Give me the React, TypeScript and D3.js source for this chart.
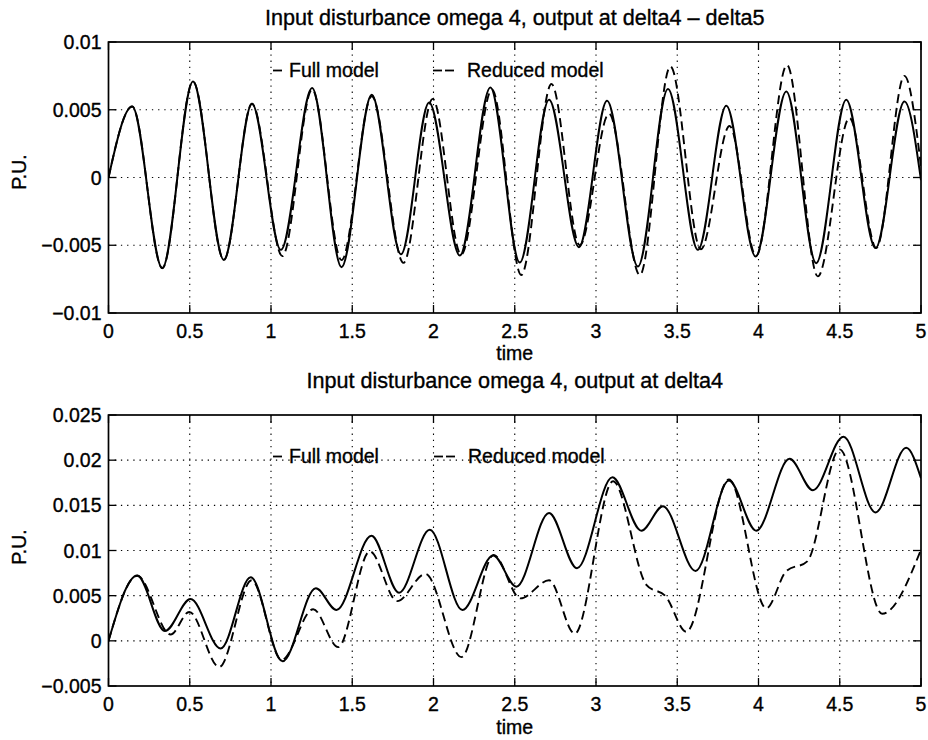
import React from 'react';
import * as d3 from 'd3';

// ---------- data ----------
const xTickValues = [0, 0.5, 1, 1.5, 2, 2.5, 3, 3.5, 4, 4.5, 5];
const xTickLabels = ['0', '0.5', '1', '1.5', '2', '2.5', '3', '3.5', '4', '4.5', '5'];

const topYTickValues = [-0.01, -0.005, 0, 0.005, 0.01];
const topYTickLabels = ['\u22120.01', '\u22120.005', '0', '0.005', '0.01'];
const botYTickValues = [-0.005, 0, 0.005, 0.01, 0.015, 0.02, 0.025];
const botYTickLabels = ['\u22120.005', '0', '0.005', '0.01', '0.015', '0.02', '0.025'];

const topTitle = 'Input disturbance omega 4, output at delta4 \u2013 delta5';
const botTitle = 'Input disturbance omega 4, output at delta4';
const legendFull = 'Full model';
const legendReduced = 'Reduced model';
const xLabel = 'time';
const yLabel = 'P.U.';

// top panel, full model (extrema)
const topFullT = [0, 0.146, 0.331, 0.52, 0.71, 0.883, 1.061, 1.253, 1.434, 1.62, 1.80, 1.973, 2.162, 2.35, 2.531, 2.711, 2.895, 3.068, 3.258, 3.443, 3.627, 3.802, 3.982, 4.171, 4.355, 4.54, 4.72, 4.898, 5.0];
const topFullY = [0, 0.00524, -0.00669, 0.00709, -0.00608, 0.00544, -0.00534, 0.0066, -0.00662, 0.0061, -0.00566, 0.00554, -0.00576, 0.00665, -0.00628, 0.00574, -0.00514, 0.00566, -0.00657, 0.00653, -0.00534, 0.0053, -0.00583, 0.00635, -0.00632, 0.00574, -0.00521, 0.00561, -0.0002];

// top panel, reduced model
const topRedT = [0, 0.146, 0.331, 0.52, 0.71, 0.883, 1.07, 1.253, 1.434, 1.62, 1.815, 1.995, 2.17, 2.36, 2.54, 2.726, 2.90, 3.08, 3.27, 3.458, 3.645, 3.822, 3.985, 4.175, 4.365, 4.56, 4.725, 4.898, 5.0];
const topRedY = [0, 0.00524, -0.00669, 0.00709, -0.00608, 0.00544, -0.0058, 0.0065, -0.0061, 0.0060, -0.0063, 0.0058, -0.0057, 0.0065, -0.0072, 0.0069, -0.0050, 0.0047, -0.0072, 0.0082, -0.0053, 0.0038, -0.0058, 0.0083, -0.0073, 0.0044, -0.0052, 0.0075, 0.0008];

// bottom panel, full model
const botFullT = [0, 0.177, 0.347, 0.505, 0.69, 0.875, 1.071, 1.276, 1.403, 1.618, 1.788, 1.977, 2.178, 2.367, 2.51, 2.711, 2.883, 3.101, 3.279, 3.412, 3.613, 3.818, 3.986, 4.191, 4.335, 4.523, 4.72, 4.909, 5.0];
const botFullY = [0, 0.00722, 0.00108, 0.00463, -0.00085, 0.00704, -0.00226, 0.00582, 0.00341, 0.01163, 0.00533, 0.0123, 0.00341, 0.00944, 0.006, 0.01416, 0.00804, 0.01811, 0.01219, 0.01489, 0.00774, 0.01774, 0.01219, 0.02015, 0.01667, 0.0226, 0.01422, 0.02137, 0.018];

// bottom panel, reduced model
const botRedT = [0, 0.177, 0.382, 0.497, 0.681, 0.881, 1.065, 1.26, 1.413, 1.608, 1.776, 1.95, 2.172, 2.37, 2.535, 2.711, 2.869, 3.105, 3.31, 3.43, 3.556, 3.818, 4.048, 4.17, 4.30, 4.499, 4.761, 5.0];
const botRedY = [0, 0.0072, 0.0007, 0.0032, -0.0029, 0.0067, -0.0021, 0.0035, -0.0007, 0.0099, 0.0044, 0.0074, -0.0018, 0.0095, 0.0047, 0.0067, 0.0008, 0.01767, 0.0062, 0.0049, 0.0010, 0.01786, 0.0036, 0.0077, 0.0088, 0.0212, 0.003, 0.0101];

// ---------- layout ----------
const W = 928;
const H = 740;
const X0 = 108.5;
const X1 = 921;
const FONT = '"Liberation Sans", Arial, Helvetica, sans-serif';
const TS = { stroke: '#000', strokeWidth: 0.35 } as const;

type PanelProps = {
  id: string;
  top: number;
  bottom: number;
  yDomain: [number, number];
  yTicks: number[];
  yLabels: string[];
  title: string;
  titleY: number;
  fullT: number[];
  fullY: number[];
  redT: number[];
  redY: number[];
  legendY: number;
  legendFullX: number;
  legendRedX: number;
  xLabelY: number;
  yLabelCY: number;
};

function Panel(p: PanelProps) {
  const x = d3.scaleLinear().domain([0, 5]).range([X0, X1]);
  const y = d3.scaleLinear().domain(p.yDomain).range([p.bottom, p.top]);
  const line = d3
    .line<[number, number]>()
    .x((d) => x(d[0]))
    .y((d) => y(d[1]))
    .curve(d3.curveMonotoneX);
  const full = p.fullT.map((t, i) => [t, p.fullY[i]] as [number, number]);
  const red = p.redT.map((t, i) => [t, p.redY[i]] as [number, number]);
  const tick = 8;
  const gridDash = '1.3,4.9';
  const fs = 19.5;
  const dashY = p.legendY - 6.5;
  return (
    <g>
      <defs>
        <clipPath id={`clip-${p.id}`}>
          <rect x={X0} y={p.top} width={X1 - X0} height={p.bottom - p.top} />
        </clipPath>
      </defs>
      {/* grid */}
      {xTickValues.slice(1, -1).map((v) => (
        <line key={`gx${v}`} x1={x(v)} x2={x(v)} y1={p.top} y2={p.bottom} stroke="#000" strokeWidth={1.1} strokeDasharray={gridDash} />
      ))}
      {p.yTicks.slice(1, -1).map((v) => (
        <line key={`gy${v}`} x1={X0} x2={X1} y1={y(v)} y2={y(v)} stroke="#000" strokeWidth={1.1} strokeDasharray={gridDash} />
      ))}
      {/* legend */}
      <line x1={p.legendFullX} x2={p.legendFullX + 9} y1={dashY} y2={dashY} stroke="#000" strokeWidth={1.8} />
      <text x={p.legendFullX + 16} y={p.legendY} fontFamily={FONT} fontSize={fs} fill="#000" {...TS}>{legendFull}</text>
      <line x1={p.legendRedX} x2={p.legendRedX + 9} y1={dashY} y2={dashY} stroke="#000" strokeWidth={1.8} />
      <line x1={p.legendRedX + 12} x2={p.legendRedX + 21} y1={dashY} y2={dashY} stroke="#000" strokeWidth={1.8} />
      <text x={p.legendRedX + 34} y={p.legendY} fontFamily={FONT} fontSize={fs} fill="#000" {...TS}>{legendReduced}</text>
      {/* curves */}
      <g clipPath={`url(#clip-${p.id})`}>
        <path d={line(red) || ''} fill="none" stroke="#000" strokeWidth={1.9} strokeDasharray="9,5" />
        <path d={line(full) || ''} fill="none" stroke="#000" strokeWidth={2} />
      </g>
      {/* ticks */}
      {xTickValues.map((v) => (
        <g key={`tx${v}`}>
          <line x1={x(v)} x2={x(v)} y1={p.bottom} y2={p.bottom - tick} stroke="#000" strokeWidth={1.3} />
          <line x1={x(v)} x2={x(v)} y1={p.top} y2={p.top + tick} stroke="#000" strokeWidth={1.3} />
        </g>
      ))}
      {p.yTicks.map((v) => (
        <g key={`ty${v}`}>
          <line x1={X0} x2={X0 + tick} y1={y(v)} y2={y(v)} stroke="#000" strokeWidth={1.3} />
          <line x1={X1} x2={X1 - tick} y1={y(v)} y2={y(v)} stroke="#000" strokeWidth={1.3} />
        </g>
      ))}
      {/* box */}
      <rect x={X0} y={p.top} width={X1 - X0} height={p.bottom - p.top} fill="none" stroke="#000" strokeWidth={1.7} />
      {/* tick labels */}
      {xTickValues.map((v, i) => (
        <text key={`lx${v}`} x={x(v)} y={p.bottom + 25} textAnchor="middle" fontFamily={FONT} fontSize={fs} fill="#000" {...TS}>{xTickLabels[i]}</text>
      ))}
      {p.yTicks.map((v, i) => (
        <text key={`ly${v}`} x={X0 - 7} y={y(v) + 7} textAnchor="end" fontFamily={FONT} fontSize={fs} fill="#000" {...TS}>{p.yLabels[i]}</text>
      ))}
      {/* labels */}
      <text x={(X0 + X1) / 2} y={p.titleY} textAnchor="middle" fontFamily={FONT} fontSize={21.6} fill="#000" {...TS}>{p.title}</text>
      <text x={(X0 + X1) / 2} y={p.xLabelY} textAnchor="middle" fontFamily={FONT} fontSize={fs} fill="#000" {...TS}>{xLabel}</text>
      <text transform={`translate(26,${p.yLabelCY}) rotate(-90)`} textAnchor="middle" fontFamily={FONT} fontSize={fs} fill="#000" {...TS}>{yLabel}</text>
    </g>
  );
}

export default function App() {
  return (
    <svg width={W} height={H} viewBox={`0 0 ${W} ${H}`} style={{ position: 'absolute', left: 0, top: 0, background: '#fff' }}>
      <rect x={0} y={0} width={W} height={H} fill="#fff" />
      <Panel
        id="top"
        top={42}
        bottom={313}
        yDomain={[-0.01, 0.01]}
        yTicks={topYTickValues}
        yLabels={topYTickLabels}
        title={topTitle}
        titleY={25}
        fullT={topFullT}
        fullY={topFullY}
        redT={topRedT}
        redY={topRedY}
        legendY={77}
        legendFullX={273}
        legendRedX={433}
        xLabelY={360}
        yLabelCY={172}
      />
      <Panel
        id="bot"
        top={415}
        bottom={686}
        yDomain={[-0.005, 0.025]}
        yTicks={botYTickValues}
        yLabels={botYTickLabels}
        title={botTitle}
        titleY={388}
        fullT={botFullT}
        fullY={botFullY}
        redT={botRedT}
        redY={botRedY}
        legendY={463}
        legendFullX={273}
        legendRedX={434}
        xLabelY={734}
        yLabelCY={547}
      />
    </svg>
  );
}
